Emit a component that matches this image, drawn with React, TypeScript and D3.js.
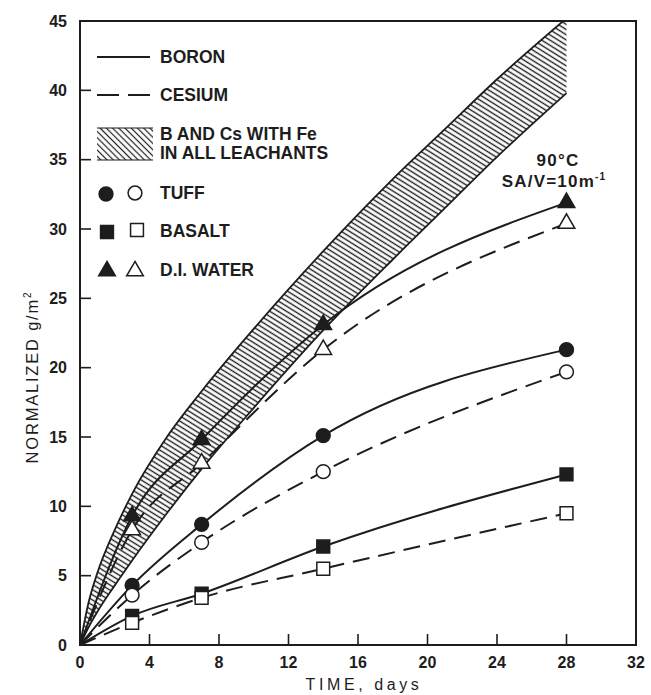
import React, { useEffect } from "react";
import * as d3 from "d3";

// sampling days (leach test)
const days = [3, 7, 14, 28];

// normalized mass loss, g/m^2 — filled = boron, open = cesium
const tuffBoron = [4.3, 8.7, 15.1, 21.3];
const tuffCesium = [3.6, 7.4, 12.5, 19.7];
const basaltBoron = [2.1, 3.7, 7.1, 12.3];
const basaltCesium = [1.6, 3.4, 5.5, 9.5];
const waterBoron = [9.3, 14.8, 23.1, 31.9];
const waterCesium = [8.3, 13.1, 21.3, 30.4];

// hatched band: B and Cs with Fe in all leachants
const bandDays = [0, 0.5, 1, 2, 3, 5, 7, 10, 14, 18, 21, 24, 28];
const bandUpper = [0, 3.1, 5.2, 8.3, 10.9, 15.0, 18.3, 22.8, 28.4, 33.6, 37.2, 40.8, 45.2];
const bandLower = [0, 1.3, 2.4, 4.3, 6.1, 9.5, 12.7, 17.1, 22.7, 27.8, 31.5, 35.2, 39.8];

const xTicks = [0, 4, 8, 12, 16, 20, 24, 28, 32];
const yTicks = [0, 5, 10, 15, 20, 25, 30, 35, 40, 45];

const W = 651;
const H = 695;
const margin = { top: 21, right: 15, bottom: 50, left: 80 };
const INK = "#1d1d1d";
const FONT = "'Liberation Sans', Arial, Helvetica, sans-serif";

export default function App() {
  useEffect(() => {
    document.body.style.margin = "0";
  }, []);

  const x = d3.scaleLinear().domain([0, 32]).range([margin.left, W - margin.right]);
  const y = d3.scaleLinear().domain([0, 45]).range([H - margin.bottom, margin.top]);

  const line = d3
    .line<[number, number]>()
    .x((d) => x(d[0]))
    .y((d) => y(d[1]))
    .curve(d3.curveMonotoneX);

  const pts = (vals: number[]): [number, number][] => [
    [0, 0],
    ...days.map((d, i) => [d, vals[i]] as [number, number]),
  ];

  const band = d3
    .area<number>()
    .x((_, i) => x(bandDays[i]))
    .y0((_, i) => y(bandLower[i]))
    .y1((_, i) => y(bandUpper[i]))
    .curve(d3.curveMonotoneX);
  const bandEdge = d3
    .line<number>()
    .x((_, i) => x(bandDays[i]))
    .y((d) => y(d))
    .curve(d3.curveMonotoneX);

  const circle = d3.symbol(d3.symbolCircle, 150)();
  const square = d3.symbol(d3.symbolSquare, 165)();
  const tri = d3.symbol(d3.symbolTriangle, 120)();

  const series = [
    { vals: tuffBoron, sym: circle, open: false },
    { vals: tuffCesium, sym: circle, open: true },
    { vals: basaltBoron, sym: square, open: false },
    { vals: basaltCesium, sym: square, open: true },
    { vals: waterBoron, sym: tri, open: false },
    { vals: waterCesium, sym: tri, open: true },
  ];

  const x0 = x(0);
  const y0 = y(0);

  return (
    <svg width={W} height={H} style={{ display: "block", background: "#fff" }} fontFamily={FONT}>
      <defs>
        <pattern id="hatchBand" width="4.4" height="4.4" patternUnits="userSpaceOnUse" patternTransform="rotate(32)">
          <line x1="0" y1="2.2" x2="4.4" y2="2.2" stroke={INK} strokeWidth="1.4" />
        </pattern>
        <pattern id="hatchLeg" width="4.4" height="4.4" patternUnits="userSpaceOnUse" patternTransform="rotate(45)">
          <line x1="0" y1="2.2" x2="4.4" y2="2.2" stroke={INK} strokeWidth="1.2" />
        </pattern>
        <clipPath id="plotClip">
          <rect x={x0} y={margin.top} width={x(32) - x0} height={y0 - margin.top} />
        </clipPath>
      </defs>

      {/* hatched band */}
      <g clipPath="url(#plotClip)">
        <path d={band(bandDays) || ""} fill="url(#hatchBand)" />
        <path d={bandEdge(bandUpper) || ""} fill="none" stroke={INK} strokeWidth={1.8} />
        <path d={bandEdge(bandLower) || ""} fill="none" stroke={INK} strokeWidth={1.8} />
      </g>

      {/* curves */}
      {series.map((s, i) => (
        <path
          key={"l" + i}
          d={line(pts(s.vals)) || ""}
          fill="none"
          stroke={INK}
          strokeWidth={2}
          strokeDasharray={s.open ? "17,9" : undefined}
        />
      ))}

      {/* markers */}
      {series.map((s, i) =>
        days.map((d, j) => (
          <path
            key={"m" + i + "-" + j}
            d={s.sym || ""}
            transform={`translate(${x(d)},${y(s.vals[j])})`}
            fill={s.open ? "#fff" : INK}
            stroke={INK}
            strokeWidth={1.5}
          />
        ))
      )}

      {/* frame */}
      <rect x={x0} y={margin.top} width={x(32) - x0} height={y0 - margin.top} fill="none" stroke={INK} strokeWidth={2} />

      {/* ticks, inside */}
      {yTicks.slice(1, -1).map((t) => (
        <line key={"yt" + t} x1={x0} x2={x0 + 11} y1={y(t)} y2={y(t)} stroke={INK} strokeWidth={1.6} />
      ))}
      {xTicks.slice(1, -1).map((t) => (
        <line key={"xt" + t} x1={x(t)} x2={x(t)} y1={y0} y2={y0 - 11} stroke={INK} strokeWidth={1.6} />
      ))}

      {/* tick labels */}
      {yTicks.map((t) => (
        <text key={"yl" + t} x={x0 - 13} y={y(t)} dy="0.36em" textAnchor="end" fontSize={16} fontWeight="bold" fill={INK}>
          {t}
        </text>
      ))}
      {xTicks.map((t) => (
        <text key={"xl" + t} x={x(t)} y={y0 + 23} textAnchor="middle" fontSize={16} fontWeight="bold" fill={INK}>
          {t}
        </text>
      ))}

      {/* axis titles */}
      <text x={364} y={690} textAnchor="middle" fontSize={16} letterSpacing={3.6} fill={INK}>
        TIME, days
      </text>
      <text transform="translate(38,377) rotate(-90)" textAnchor="middle" fontSize={16.5} letterSpacing={1.8} fill={INK}>
        NORMALIZED g/m
        <tspan fontSize={10} dy={-7}>2</tspan>
      </text>

      {/* legend */}
      <g fill={INK} fontSize={17.5} fontWeight="bold">
        <line x1={97} x2={150} y1={57} y2={57} stroke={INK} strokeWidth={2} />
        <text x={160} y={63}>BORON</text>
        <line x1={97} x2={150} y1={95} y2={95} stroke={INK} strokeWidth={2} strokeDasharray="22,9" />
        <text x={160} y={101}>CESIUM</text>
        <rect x={97} y={128} width={56} height={32} fill="url(#hatchLeg)" />
        <line x1={97} x2={153} y1={128} y2={128} stroke={INK} strokeWidth={1} />
        <line x1={97} x2={153} y1={160} y2={160} stroke={INK} strokeWidth={1} />
        <text x={160} y={140}>B AND Cs WITH Fe</text>
        <text x={160} y={159}>IN ALL LEACHANTS</text>

        <path d={circle || ""} transform="translate(106,194)" fill={INK} stroke={INK} strokeWidth={1.5} />
        <path d={circle || ""} transform="translate(135,193)" fill="#fff" stroke={INK} strokeWidth={1.5} />
        <text x={160} y={199}>TUFF</text>

        <path d={square || ""} transform="translate(107,232)" fill={INK} stroke={INK} strokeWidth={1.5} />
        <path d={square || ""} transform="translate(137,230)" fill="#fff" stroke={INK} strokeWidth={1.5} />
        <text x={160} y={237}>BASALT</text>

        <path d={tri || ""} transform="translate(107,271)" fill={INK} stroke={INK} strokeWidth={1.5} />
        <path d={tri || ""} transform="translate(135,271)" fill="#fff" stroke={INK} strokeWidth={1.5} />
        <text x={160} y={276}>D.I. WATER</text>
      </g>

      {/* conditions note */}
      <g fill={INK} fontSize={17} fontWeight="bold" textAnchor="middle" letterSpacing={1.2}>
        <text x={558} y={166}>90°C</text>
        <text x={554} y={187}>
          SA/V=10m<tspan fontSize={10} dy={-7}>-1</tspan>
        </text>
      </g>
    </svg>
  );
}
